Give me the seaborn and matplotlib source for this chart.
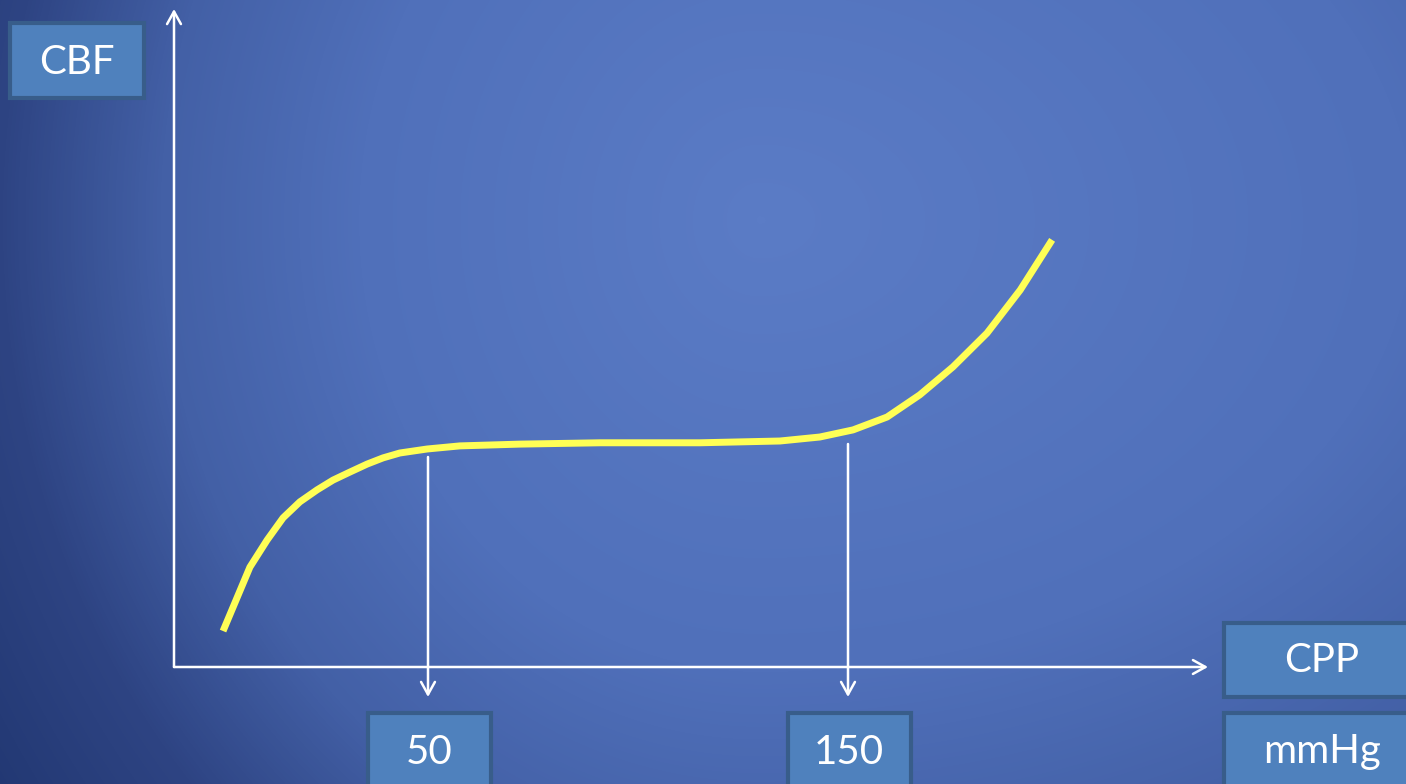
import numpy as np
import pandas as pd
import matplotlib
matplotlib.use("Agg")
import matplotlib.pyplot as plt
from matplotlib.patches import Rectangle
from matplotlib.colors import LinearSegmentedColormap
import seaborn as sns

# ---- data (CPP in mmHg, CBF arbitrary units) ----
cpp = [1.2, 3.6, 7.6, 11.7, 15.5, 19.5, 23.6, 27.4, 31.4, 35.5, 39.3, 43.3, 49.8, 57.6,
       71.9, 91, 114.8, 133.8, 143.3, 151.2, 159.3, 167.1, 175, 183.1, 191, 198.6]
cbf = [8.1, 13.5, 22.5, 28.6, 33.6, 37.2, 39.9, 42.1, 43.9, 45.7, 47.1, 48.2, 49.1, 49.8,
       50.2, 50.5, 50.5, 50.9, 51.8, 53.4, 56.3, 61.3, 67.6, 75.2, 84.9, 96.2]
marks = [50, 150]
mark_labels = ["50", "150"]
y_label = "CBF"
x_label = "CPP"
unit_label = "mmHg"

sns.set_style("white")
plt.rcParams["font.family"] = ["Lato", "DejaVu Sans"]

W, H = 1406, 784
fig = plt.figure(figsize=(W / 100, H / 100), dpi=100)

# background gradient
bg = fig.add_axes([0, 0, 1, 1])
bg.set_axis_off()
yy, xx = np.mgrid[0:H, 0:W]
cx_, cy_ = 760, 220
sx = np.where(xx < cx_, 800.0, 1300.0)
d = np.sqrt(((xx - cx_) / sx) ** 2 + ((yy - cy_) / 900.0) ** 2)
d = np.clip(d, 0, 1.2)
cmap = LinearSegmentedColormap.from_list(
    "bgc", [(0, "#5B7CC6"), (0.5 / 1.2, "#5070BA"), (0.75 / 1.2, "#4360A6"),
            (0.95 / 1.2, "#2E4483"), (1.0, "#1F356F")])
bg.imshow(d, cmap=cmap, vmin=0, vmax=1.2, aspect="auto", extent=[0, 1, 0, 1],
          interpolation="bilinear")
bg.set_xlim(0, 1)
bg.set_ylim(0, 1)

# main axes in data coordinates over whole figure
ax = fig.add_axes([0, 0, 1, 1])
ax.patch.set_alpha(0)
px_x = 4.2
px_y = 4.44
x0_px, y0_px = 218, 667
ax.set_xlim((0 - x0_px) / px_x, (W - x0_px) / px_x)
ax.set_ylim((y0_px - H) / px_y, (y0_px - 0) / px_y)

def px2d(px, py):
    return (px - x0_px) / px_x, (y0_px - py) / px_y

white = "#FFFFFF"
arrow_kw = dict(arrowstyle="->,head_length=0.9,head_width=0.5", color=white, lw=1.8,
                shrinkA=0, shrinkB=0)

ox, oy = px2d(174, 667)
xend, _ = px2d(1208, 667)
_, yend = px2d(174, 9)
ax.annotate("", xy=(xend, oy), xytext=(ox, oy), arrowprops=arrow_kw)
ax.annotate("", xy=(ox, yend), xytext=(ox, oy), arrowprops=arrow_kw)

# drop lines
_, ybot = px2d(0, 697)
starts = [px2d(0, 457)[1], px2d(0, 444)[1]]
for m, s in zip(marks, starts):
    ax.annotate("", xy=(m, ybot), xytext=(m, s), arrowprops=arrow_kw)

# curve
df = pd.DataFrame({"CPP": cpp, "CBF": cbf})
sns.lineplot(data=df, x="CPP", y="CBF", ax=ax, color="#FFFF55", lw=5,
             solid_capstyle="butt", solid_joinstyle="round", legend=False)
ax.set_axis_off()

# boxes (figure pixel coords)
def box(x1, y1, x2, y2, text, cx, cy):
    r = Rectangle((x1 / W, 1 - y2 / H), (x2 - x1) / W, (y2 - y1) / H,
                  transform=fig.transFigure, facecolor="#4F81BD", edgecolor="#385D8A",
                  lw=3, zorder=5)
    fig.add_artist(r)
    fig.text(cx / W, 1 - cy / H, text, color="white", fontsize=29,
             ha="center", va="center", zorder=6)

box(10, 23, 144, 98, y_label, 77, 62)
box(1224, 623, 1412, 697, x_label, 1322, 661)
box(1224, 713, 1412, 790, unit_label, 1322, 752)
for m, lab in zip(marks, mark_labels):
    cx = x0_px + m * px_x
    box(cx - 60, 713, cx + 63, 790, lab, cx + 1, 752)

fig.savefig("out.png", dpi=100)
